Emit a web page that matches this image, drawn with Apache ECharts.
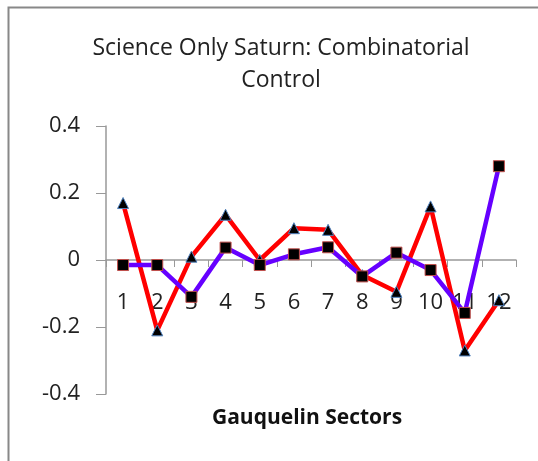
<!DOCTYPE html>
<html>
<head>
<meta charset="utf-8">
<script src="https://cdn.jsdelivr.net/npm/echarts@6/dist/echarts.min.js"></script>
<style>
  html, body { margin: 0; padding: 0; background: #fff; }
  #chart { width: 538px; height: 461px; }
</style>
</head>
<body>
<div id="chart"></div>
<script>
// Gauquelin sectors 1..12
const sectors = ['1', '2', '3', '4', '5', '6', '7', '8', '9', '10', '11', '12'];
// red line, triangle markers
const redValues = [0.17, -0.21, 0.01, 0.135, 0.0, 0.095, 0.09, -0.045, -0.095, 0.16, -0.27, -0.12];
// purple line, square markers
const purpleValues = [-0.015, -0.015, -0.11, 0.037, -0.015, 0.017, 0.038, -0.049, 0.022, -0.03, -0.158, 0.28];
const yTicks = [-0.4, -0.2, 0, 0.2, 0.4];

const font = '"Open Sans", Lato, sans-serif';
const chart = echarts.init(document.getElementById('chart'));

// grid geometry (px)
const gridTop = 126, gridBottom = 67, plotH = 461 - gridTop - gridBottom;
const yMin = yTicks[0], yMax = yTicks[yTicks.length - 1];
// shift the category axis up so it sits on the zero line
const zeroOffset = -plotH * (0 - yMin) / (yMax - yMin);

chart.setOption({
  animation: false,
  title: [{
    text: 'Science Only Saturn: Combinatorial\nControl',
    left: 276,
    textAlign: 'center',
    top: 27,
    textStyle: { fontFamily: font, fontSize: 23, fontWeight: 'normal', color: '#222', lineHeight: 32 }
  }, {
    text: 'Gauquelin Sectors',
    left: 302,
    textAlign: 'center',
    top: 403,
    textStyle: { fontFamily: font, fontSize: 21, fontWeight: 'bold', color: '#111' }
  }],
  graphic: [{
    type: 'rect',
    shape: { x: 8.5, y: 7.5, width: 560, height: 480 },
    style: { fill: 'none', stroke: '#888', lineWidth: 2 },
    silent: true
  }],
  grid: { left: 106, right: 22, top: gridTop, bottom: gridBottom },
  xAxis: {
    type: 'category',
    data: sectors,
    boundaryGap: true,
    offset: zeroOffset,
    axisLine: { onZero: false, lineStyle: { color: '#999', width: 1.5 } },
    axisTick: { show: true, length: 7, lineStyle: { color: '#999' } },
    axisLabel: { margin: 32, fontFamily: font, fontSize: 22, color: '#222' }
  },
  yAxis: {
    type: 'value',
    min: yMin,
    max: yMax,
    interval: 0.2,
    splitLine: { show: false },
    axisLine: { show: true, lineStyle: { color: '#999', width: 1.5 } },
    axisTick: { show: true, length: 10, lineStyle: { color: '#999' } },
    axisLabel: {
      margin: 26, fontFamily: font, fontSize: 22, color: '#222',
      formatter: v => (Math.abs(v) < 1e-9 ? '0' : String(+v.toFixed(1)))
    }
  },
  series: [{
    type: 'line',
    data: redValues,
    symbol: 'triangle',
    symbolSize: 11,
    lineStyle: { color: '#ff0000', width: 4.5 },
    itemStyle: { color: '#000', borderColor: '#4f81bd', borderWidth: 1 }
  }, {
    type: 'line',
    data: purpleValues,
    symbol: 'rect',
    symbolSize: 11,
    lineStyle: { color: '#6600ff', width: 4.5 },
    itemStyle: { color: '#000', borderColor: '#c0504d', borderWidth: 1 }
  }]
});
</script>
</body>
</html>
